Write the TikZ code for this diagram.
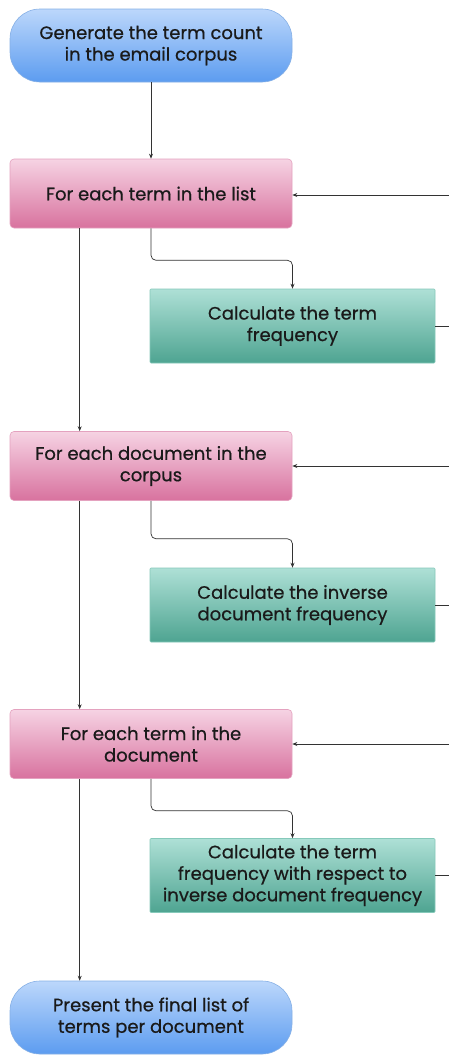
\documentclass[tikz,border=0pt]{standalone}
\usepackage{fontspec}
\setmainfont{Poppins}[FakeBold=0.6]
\usetikzlibrary{arrows.meta}
\definecolor{bluetop}{HTML}{BCD7FB}
\definecolor{bluebot}{HTML}{5C9CF0}
\definecolor{blueline}{HTML}{86B0E6}
\definecolor{pinktop}{HTML}{F6D3E3}
\definecolor{pinkbot}{HTML}{D8729E}
\definecolor{pinkline}{HTML}{E4A2BF}
\definecolor{greentop}{HTML}{AEE0D6}
\definecolor{greenbot}{HTML}{4EA491}
\definecolor{greenline}{HTML}{86C9BA}
\definecolor{txt}{HTML}{1A1A1A}
\definecolor{conncol}{HTML}{333333}
\begin{document}
\begin{tikzpicture}[x=1pt,y=-1pt,
  lbl/.style={align=center,text=txt,font=\fontsize{18}{21.5}\selectfont,inner sep=0pt},
  term/.style={lbl,rectangle,rounded corners=30pt,minimum width=282pt,minimum height=73pt,
    top color=bluetop,bottom color=bluebot,draw=blueline,line width=0.6pt},
  loopbox/.style={lbl,rectangle,rounded corners=4pt,minimum width=282pt,minimum height=69pt,
    top color=pinktop,bottom color=pinkbot,draw=pinkline,line width=0.6pt},
  calcbox/.style={lbl,rectangle,rounded corners=1pt,minimum width=285pt,minimum height=74pt,
    top color=greentop,bottom color=greenbot,draw=greenline,line width=0.6pt},
  conn/.style={draw=conncol,line width=0.7pt},
  arr/.style={conn,-{Stealth[length=5pt,width=4pt]}}]
\useasboundingbox (0,0) rectangle (449,1055);
\fill[white] (0,0) rectangle (449,1055);

\node[term] (start) at (151,45.5) {Generate the term count\\in the email corpus};
\node[loopbox] (p1) at (151,193.5) {For each term in the list};
\node[calcbox] (g1) at (292.5,326) {Calculate the term\\frequency};
\node[loopbox] (p2) at (151,466) {For each document in the\\corpus};
\node[calcbox] (g2) at (292.5,605) {Calculate the inverse\\document frequency};
\node[loopbox] (p3) at (151,744) {For each term in the\\document};
\node[calcbox] (g3) at (292.5,875.5) {Calculate the term\\frequency with respect to\\inverse document frequency};
\node[term] (end) at (151,1017.5) {Present the final list of\\terms per document};

\coordinate (r1) at (449,195);
\coordinate (r2) at (449,466);
\coordinate (r3) at (449,744);

\draw[arr] (start.south) -- (p1.north);

\draw[arr,rounded corners=5pt] (p1.south) -- ++(0,32) -| (g1.north);
\draw[arr,rounded corners=5pt] (p2.south) -- ++(0,38) -| (g2.north);
\draw[arr,rounded corners=5pt] (p3.south) -- ++(0,32) -| (g3.north);

\draw[arr] ([xshift=70pt]p1.south west) -- ([xshift=70pt]p2.north west);
\draw[arr] ([xshift=70pt]p2.south west) -- ([xshift=70pt]p3.north west);
\draw[arr] ([xshift=70pt]p3.south west) -- ([xshift=70pt]end.north west);

\draw[arr] (r1) -- (r1 -| p1.east);
\draw[arr] (r2) -- (r2 -| p2.east);
\draw[arr] (r3) -- (r3 -| p3.east);

\draw[conn] (g1.east) -- (g1.east -| r1);
\draw[conn] (g2.east) -- (g2.east -| r2);
\draw[conn] (g3.east) -- (g3.east -| r3);
\end{tikzpicture}
\end{document}
